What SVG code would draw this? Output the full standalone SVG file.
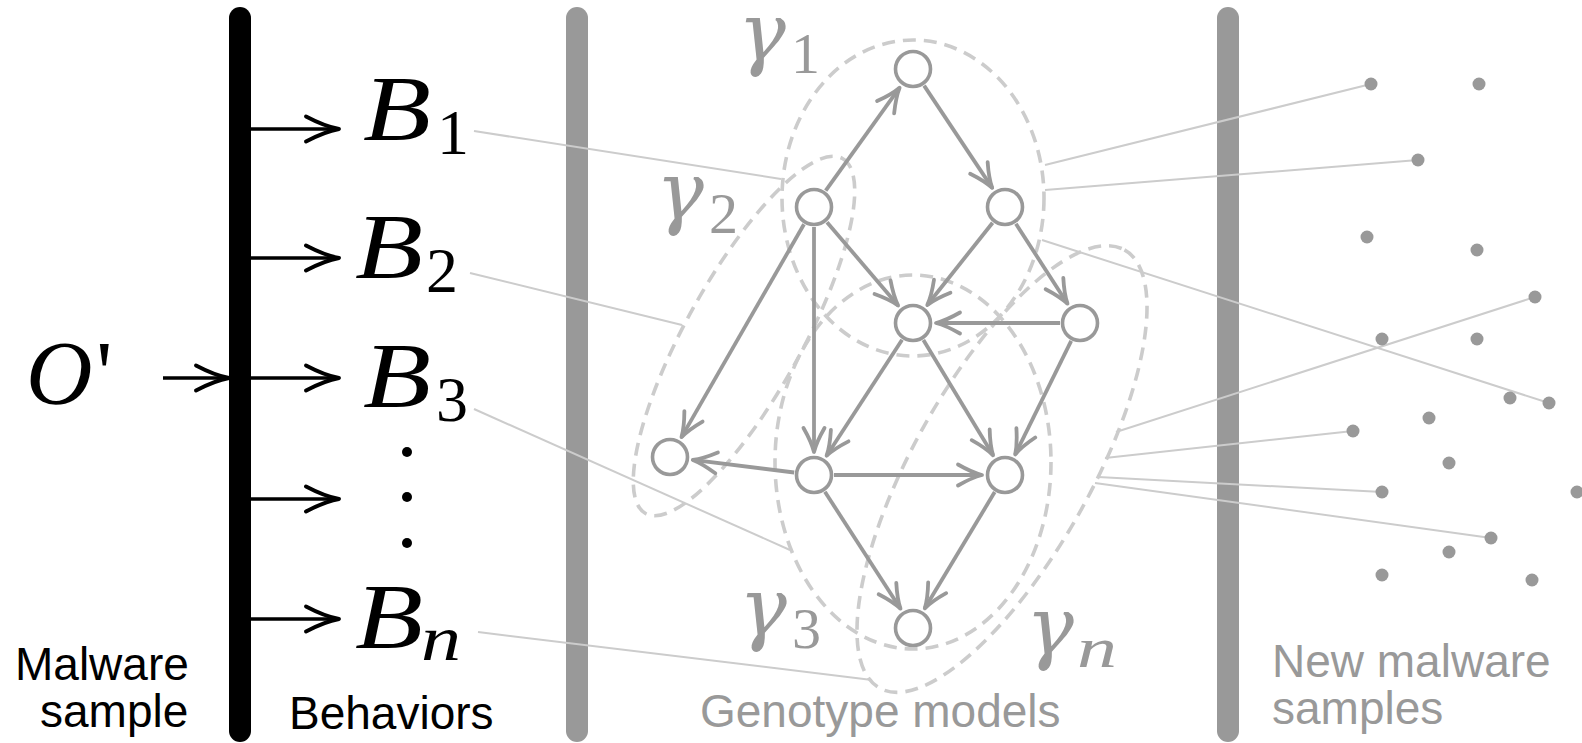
<svg xmlns="http://www.w3.org/2000/svg" width="1582" height="743" viewBox="0 0 1582 743">
  <style>
    .bar { stroke-width: 22; stroke-linecap: round; }
    .math { font-family: "Liberation Serif", "DejaVu Serif", serif; font-style: italic; }
    .greek { font-family: "DejaVu Serif", "Liberation Serif", serif; font-style: italic; }
    .upright { font-family: "Liberation Serif", "DejaVu Serif", serif; font-style: normal; }
    .caption { font-family: "Liberation Sans", Arial, sans-serif; font-size: 46px; }
    .gray { fill: #999999; }
    .link { stroke: #cccccc; stroke-width: 2; fill: none; }
    .group { fill: none; stroke: #cccccc; stroke-width: 3.6; stroke-dasharray: 13 8; }
    .edge { stroke: #999999; stroke-width: 3.8; fill: none; marker-end: url(#head-gray); }
    .out { stroke: #000000; stroke-width: 3.4; fill: none; marker-end: url(#head-black); }
    .node circle { fill: #ffffff; stroke: #999999; stroke-width: 3.6; }
    .sample { fill: #999999; }
  </style>
  <defs>
    <marker id="head-black" viewBox="-40 -20 45 40" refX="0" refY="0" markerWidth="45" markerHeight="40" markerUnits="userSpaceOnUse" orient="auto" overflow="visible">
      <path d="M-33,-12.5 Q-14,-2.5 0,0 Q-14,2.5 -33,12.5" fill="none" stroke="#000000" stroke-width="3.9" stroke-linecap="round" stroke-linejoin="round"/>
    </marker>
    <marker id="head-gray" viewBox="-30 -15 35 30" refX="0" refY="0" markerWidth="35" markerHeight="30" markerUnits="userSpaceOnUse" orient="auto" overflow="visible">
      <path d="M-24,-10.5 Q-10,-2.5 0,0 Q-10,2.5 -24,10.5" fill="none" stroke="#999999" stroke-width="3.8" stroke-linecap="round" stroke-linejoin="round"/>
    </marker>
  </defs>

  <rect width="1582" height="743" fill="#ffffff"/>

  <!-- vertical stage bars -->
  <g id="bars">
    <line class="bar" x1="240" y1="18" x2="240" y2="731" stroke="#000000"/>
    <line class="bar" x1="577" y1="18" x2="577" y2="731" stroke="#999999"/>
    <line class="bar" x1="1228" y1="18" x2="1228" y2="731" stroke="#999999"/>
  </g>

  <!-- genotype groupings (dashed hulls) -->
  <g id="genotypes">
    <ellipse id="gamma1-hull" class="group" cx="913" cy="198" rx="131" ry="158"/>
    <ellipse id="gamma2-hull" class="group" cx="744" cy="336" rx="203" ry="58" transform="rotate(-61 744 336)"/>
    <ellipse id="gamma3-hull" class="group" cx="913" cy="462" rx="138" ry="187"/>
    <ellipse id="gamman-hull" class="group" cx="1002" cy="469" rx="251" ry="89" transform="rotate(-60.8 1002 469)"/>
  </g>

  <!-- connectors: behaviours to genotypes, genotypes to samples, behaviour arrows, graph edges -->
  <g id="connectors">
    <line class="link" x1="474" y1="131" x2="781" y2="179"/>
    <line class="link" x1="470" y1="273" x2="682" y2="325"/>
    <line class="link" x1="474" y1="409" x2="790" y2="550"/>
    <line class="link" x1="478" y1="632" x2="872" y2="680"/>

    <line class="link" x1="1045" y1="165" x2="1371" y2="84"/>
    <line class="link" x1="1045" y1="190" x2="1418" y2="160"/>
    <line class="link" x1="1042" y1="240" x2="1549" y2="403"/>
    <line class="link" x1="1116" y1="432" x2="1535" y2="297"/>
    <line class="link" x1="1105" y1="458" x2="1353" y2="431"/>
    <line class="link" x1="1098" y1="477" x2="1382" y2="492"/>
    <line class="link" x1="1095" y1="483" x2="1491" y2="538"/>

    <line class="out" x1="163" y1="378" x2="229" y2="378"/>
    <line class="out" x1="251" y1="129" x2="339" y2="129"/>
    <line class="out" x1="251" y1="258" x2="339" y2="258"/>
    <line class="out" x1="251" y1="378" x2="339" y2="378"/>
    <line class="out" x1="251" y1="499" x2="339" y2="499"/>
    <line class="out" x1="251" y1="619" x2="339" y2="619"/>

    <line class="edge" x1="825.7" y1="190.7" x2="899.6" y2="87.7"/>
    <line class="edge" x1="924.1" y1="85.6" x2="992.2" y2="187.9"/>
    <line class="edge" x1="827" y1="222.2" x2="898.1" y2="305.5"/>
    <line class="edge" x1="992.6" y1="222.7" x2="927.3" y2="305"/>
    <line class="edge" x1="1015.9" y1="223.8" x2="1067.5" y2="303.7"/>
    <line class="edge" x1="1060" y1="323" x2="936" y2="323"/>
    <line class="edge" x1="804" y1="224.3" x2="681.5" y2="437.1"/>
    <line class="edge" x1="814" y1="227" x2="814" y2="452"/>
    <line class="edge" x1="902.1" y1="339.8" x2="826.6" y2="455.7"/>
    <line class="edge" x1="923.4" y1="340.1" x2="993.1" y2="455.3"/>
    <line class="edge" x1="1071.2" y1="340.9" x2="1015.2" y2="454.4"/>
    <line class="edge" x1="794.2" y1="472.5" x2="692.8" y2="459.9"/>
    <line class="edge" x1="834" y1="475" x2="982" y2="475"/>
    <line class="edge" x1="824.9" y1="491.8" x2="900.5" y2="608.7"/>
    <line class="edge" x1="994.7" y1="492.1" x2="924.8" y2="608.3"/>
  </g>

  <!-- graph nodes -->
  <g id="node-top" class="node"><circle cx="913" cy="69" r="17.5"/></g>
  <g id="node-left" class="node"><circle cx="814" cy="207" r="17.5"/></g>
  <g id="node-right" class="node"><circle cx="1005" cy="207" r="17.5"/></g>
  <g id="node-center" class="node"><circle cx="913" cy="323" r="17.5"/></g>
  <g id="node-far-right" class="node"><circle cx="1080" cy="323" r="17.5"/></g>
  <g id="node-far-left" class="node"><circle cx="670" cy="457" r="17.5"/></g>
  <g id="node-lower-left" class="node"><circle cx="814" cy="475" r="17.5"/></g>
  <g id="node-lower-right" class="node"><circle cx="1005" cy="475" r="17.5"/></g>
  <g id="node-bottom" class="node"><circle cx="913" cy="628" r="17.5"/></g>

  <!-- input sample -->
  <g id="input-sample">
    <text class="math" x="26" y="404" font-size="92">O</text>
    <text class="upright" x="96" y="404" font-size="92">'</text>
  </g>

  <!-- behaviours -->
  <g id="behavior-1">
    <text class="math" x="363" y="140" font-size="94" textLength="68" lengthAdjust="spacingAndGlyphs">B</text>
    <text class="upright" x="437" y="154" font-size="64">1</text>
  </g>
  <g id="behavior-2">
    <text class="math" x="355" y="278" font-size="94" textLength="68" lengthAdjust="spacingAndGlyphs">B</text>
    <text class="upright" x="426" y="292" font-size="64">2</text>
  </g>
  <g id="behavior-3">
    <text class="math" x="363" y="407" font-size="94" textLength="68" lengthAdjust="spacingAndGlyphs">B</text>
    <text class="upright" x="436" y="421" font-size="64">3</text>
  </g>
  <g id="behavior-dots">
    <circle cx="407" cy="452" r="5"/>
    <circle cx="407" cy="497" r="5"/>
    <circle cx="407" cy="543" r="5"/>
  </g>
  <g id="behavior-n">
    <text class="math" x="355" y="648" font-size="94" textLength="68" lengthAdjust="spacingAndGlyphs">B</text>
    <text class="math" x="421" y="660" font-size="64" textLength="40" lengthAdjust="spacingAndGlyphs">n</text>
  </g>

  <!-- genotype labels -->
  <g id="gamma-1" class="gray">
    <text class="greek" x="738" y="60" font-size="80">γ</text>
    <text class="upright" x="791" y="73" font-size="58">1</text>
  </g>
  <g id="gamma-2" class="gray">
    <text class="greek" x="656" y="219" font-size="80">γ</text>
    <text class="upright" x="709" y="233" font-size="58">2</text>
  </g>
  <g id="gamma-3" class="gray">
    <text class="greek" x="739" y="635" font-size="80">γ</text>
    <text class="upright" x="792" y="648" font-size="58">3</text>
  </g>
  <g id="gamma-n" class="gray">
    <text class="greek" x="1026" y="654" font-size="80">γ</text>
    <text class="math" x="1077" y="667" font-size="58" textLength="40" lengthAdjust="spacingAndGlyphs">n</text>
  </g>

  <!-- new samples cloud -->
  <g id="new-samples">
    <circle class="sample" cx="1371" cy="84" r="6.5"/>
    <circle class="sample" cx="1479" cy="84" r="6.5"/>
    <circle class="sample" cx="1418" cy="160" r="6.5"/>
    <circle class="sample" cx="1367" cy="237" r="6.5"/>
    <circle class="sample" cx="1477" cy="250" r="6.5"/>
    <circle class="sample" cx="1535" cy="297" r="6.5"/>
    <circle class="sample" cx="1382" cy="339" r="6.5"/>
    <circle class="sample" cx="1477" cy="339" r="6.5"/>
    <circle class="sample" cx="1510" cy="398" r="6.5"/>
    <circle class="sample" cx="1549" cy="403" r="6.5"/>
    <circle class="sample" cx="1429" cy="418" r="6.5"/>
    <circle class="sample" cx="1353" cy="431" r="6.5"/>
    <circle class="sample" cx="1449" cy="463" r="6.5"/>
    <circle class="sample" cx="1382" cy="492" r="6.5"/>
    <circle class="sample" cx="1577" cy="492" r="6.5"/>
    <circle class="sample" cx="1491" cy="538" r="6.5"/>
    <circle class="sample" cx="1449" cy="552" r="6.5"/>
    <circle class="sample" cx="1382" cy="575" r="6.5"/>
    <circle class="sample" cx="1532" cy="580" r="6.5"/>
  </g>

  <!-- stage captions -->
  <g id="captions" class="caption">
    <text x="15" y="680">Malware</text>
    <text x="40" y="727">sample</text>
    <text x="289" y="729">Behaviors</text>
    <text class="gray" x="700" y="727">Genotype models</text>
    <text class="gray" x="1272" y="677">New malware</text>
    <text class="gray" x="1272" y="724">samples</text>
  </g>
</svg>
